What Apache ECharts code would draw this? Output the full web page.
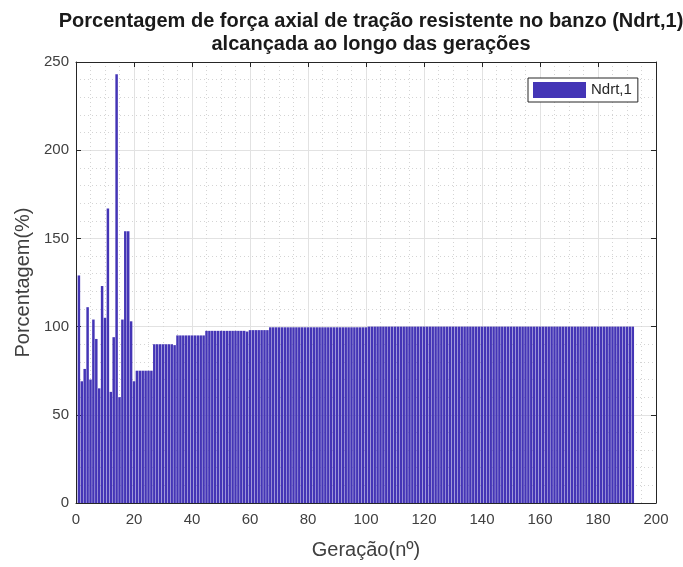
<!DOCTYPE html>
<html>
<head>
<meta charset="utf-8">
<script src="https://cdn.jsdelivr.net/npm/echarts@6/dist/echarts.min.js"></script>
<style>
  html, body { margin: 0; padding: 0; background: #ffffff; }
  #chart { width: 683px; height: 567px; }
</style>
</head>
<body>
<div id="chart"></div>
<script>
// Chart text
const titleText = 'Porcentagem de força axial de tração resistente no banzo (Ndrt,1)\nalcançada ao longo das gerações';
const xName = 'Geração(nº)';
const yName = 'Porcentagem(%)';
const seriesName = 'Ndrt,1';

// Axis ranges and tick steps
const xRange = [0, 200];
const xStep = 20;
const yRange = [0, 250];
const yStep = 50;

// Percentage reached in each generation (generation 1 .. 192)
const percent = [
  129, 69, 76, 111, 70, 104, 93, 65, 123, 105,
  167, 63, 94, 243, 60, 104, 154, 154, 103, 69,
  75, 75, 75, 75, 75, 75, 90, 90, 90, 90,
  90, 90, 90, 89.5, 95, 95, 95, 95, 95, 95,
  95, 95, 95, 95, 97.6, 97.6, 97.6, 97.6, 97.6, 97.6,
  97.6, 97.6, 97.6, 97.6, 97.6, 97.6, 97.6, 97.6, 97.2, 98,
  98, 98, 98, 98, 98, 98, 99.6, 99.6, 99.6, 99.6,
  99.6, 99.6, 99.6, 99.6, 99.6, 99.6, 99.6, 99.6, 99.6, 99.6,
  99.6, 99.6, 99.6, 99.6, 99.6, 99.6, 99.6, 99.6, 99.6, 99.6,
  99.6, 99.6, 99.6, 99.6, 99.6, 99.6, 99.6, 99.6, 99.6, 99.6,
  100, 100, 100, 100, 100, 100, 100, 100, 100, 100,
  100, 100, 100, 100, 100, 100, 100, 100, 100, 100,
  100, 100, 100, 100, 100, 100, 100, 100, 100, 100,
  100, 100, 100, 100, 100, 100, 100, 100, 100, 100,
  100, 100, 100, 100, 100, 100, 100, 100, 100, 100,
  100, 100, 100, 100, 100, 100, 100, 100, 100, 100,
  100, 100, 100, 100, 100, 100, 100, 100, 100, 100,
  100, 100, 100, 100, 100, 100, 100, 100, 100, 100,
  100, 100, 100, 100, 100, 100, 100, 100, 100, 100,
  100, 100
];

const FONT = "'Liberation Sans', Arial, Helvetica, sans-serif";
const AXIS_COLOR = '#262626';
const TEXT_COLOR = '#404040';
const BAR_COLOR = '#4435b6';

const barData = percent.map((v, i) => [i + 1, v]);

// Mirror axes on the top and right edges close the plot box (ticks only)
function frameAxis(base) {
  return Object.assign({
    axisLine: { show: true, onZero: false, lineStyle: { color: AXIS_COLOR, width: 1 } },
    axisTick: { show: true, inside: true, length: 5, lineStyle: { color: AXIS_COLOR, width: 1 } },
    axisLabel: { show: false },
    splitLine: { show: false }
  }, base);
}

const chart = echarts.init(document.getElementById('chart'), null, { renderer: 'canvas' });

chart.setOption({
  animation: false,
  backgroundColor: '#ffffff',
  title: {
    text: titleText,
    left: 366,
    textAlign: 'center',
    top: 5,
    textStyle: {
      fontFamily: FONT,
      fontWeight: 'bold',
      fontSize: 20,
      lineHeight: 23,
      color: '#1a1a1a'
    }
  },
  legend: {
    data: [seriesName],
    left: 528,
    top: 78,
    orient: 'vertical',
    icon: 'rect',
    itemWidth: 53,
    itemHeight: 16,
    padding: [4, 6, 4, 5],
    backgroundColor: '#ffffff',
    borderColor: AXIS_COLOR,
    borderWidth: 1,
    borderRadius: 0,
    textStyle: { fontFamily: FONT, fontSize: 15, color: AXIS_COLOR }
  },
  grid: { left: 76, right: 27, top: 62, bottom: 64, containLabel: false },
  xAxis: [
    {
      type: 'value',
      min: xRange[0],
      max: xRange[1],
      interval: xStep,
      position: 'bottom',
      name: xName,
      nameLocation: 'middle',
      nameGap: 37,
      nameTextStyle: { fontFamily: FONT, fontSize: 20, color: TEXT_COLOR },
      axisLine: { show: true, onZero: false, lineStyle: { color: AXIS_COLOR, width: 1 } },
      axisTick: { show: true, inside: true, length: 5, lineStyle: { color: AXIS_COLOR, width: 1 } },
      axisLabel: { margin: 9, fontFamily: FONT, fontSize: 15, color: TEXT_COLOR },
      splitLine: { show: true, lineStyle: { color: '#e2e2e2', width: 1 } },
      minorTick: { show: false, splitNumber: 4 },
      minorSplitLine: { show: true, lineStyle: { color: '#d4d4d4', width: 1, type: [1, 3] } }
    },
    frameAxis({ type: 'value', min: xRange[0], max: xRange[1], interval: xStep, position: 'top' })
  ],
  yAxis: [
    {
      type: 'value',
      min: yRange[0],
      max: yRange[1],
      interval: yStep,
      position: 'left',
      name: yName,
      nameLocation: 'middle',
      nameGap: 34,
      nameTextStyle: { fontFamily: FONT, fontSize: 20, color: TEXT_COLOR },
      axisLine: { show: true, onZero: false, lineStyle: { color: AXIS_COLOR, width: 1 } },
      axisTick: { show: true, inside: true, length: 5, lineStyle: { color: AXIS_COLOR, width: 1 } },
      axisLabel: { margin: 7, fontFamily: FONT, fontSize: 15, color: TEXT_COLOR },
      splitLine: { show: true, lineStyle: { color: '#e2e2e2', width: 1 } },
      minorTick: { show: false, splitNumber: 5 },
      minorSplitLine: { show: true, lineStyle: { color: '#d4d4d4', width: 1, type: [1, 3] } }
    },
    frameAxis({ type: 'value', min: yRange[0], max: yRange[1], interval: yStep, position: 'right' })
  ],
  series: [
    {
      name: seriesName,
      type: 'bar',
      xAxisIndex: 0,
      yAxisIndex: 0,
      data: barData,
      barWidth: '86%',
      itemStyle: { color: BAR_COLOR },
      emphasis: { disabled: true }
    }
  ]
});
</script>
</body>
</html>
